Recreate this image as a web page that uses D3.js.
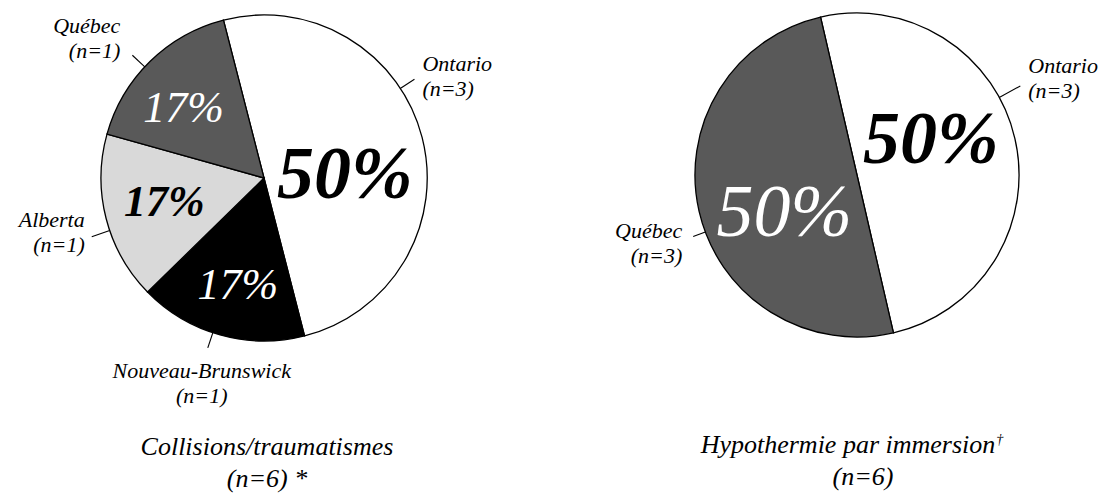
<!DOCTYPE html>
<html><head><meta charset="utf-8"><script src="https://cdn.jsdelivr.net/npm/d3@7"></script></head>
<body style="margin:0">
<script>
// data: collisions / traumatismes
const collisionProvinces = ["Ontario", "Nouveau-Brunswick", "Alberta", "Québec"]
const collisionCounts = [3, 1, 1, 1]
const collisionPercents = ["50%", "17%", "17%", "17%"]
const collisionTitle = ["Collisions/traumatismes", "(n=6) *"]

// data: hypothermie par immersion
const hypoProvinces = ["Ontario", "Québec"]
const hypoCounts = [3, 3]
const hypoPercents = ["50%", "50%"]
const hypoTitle = ["Hypothermie par immersion", "(n=6)"]

const fills = {
    "Ontario": "#ffffff",
    "Nouveau-Brunswick": "#000000",
    "Alberta": "#d9d9d9",
    "Québec": "#595959"
}
const deg = Math.PI / 180
const FONT = "Liberation Serif"

const svg = d3.select("body").append("svg")
    .attr("width", 1107)
    .attr("height", 493)

function darkFill(name) {
    return fills[name] === "#595959" || fills[name] === "#000000"
}

function addText(parent, x, y, size, txt) {
    return parent.append("text")
        .attr("x", x).attr("y", y)
        .attr("font-family", FONT)
        .attr("font-size", size)
        .attr("font-style", "italic")
        .text(txt)
}

// one pie with its labels
function drawPie(opts) {
    const rows = opts.names.map((n, i) => ({name: n, count: opts.counts[i], pct: opts.percents[i]}))
    const pie = d3.pie()
        .sort(null)
        .value(d => d.count)
        .startAngle(opts.start * deg)
        .endAngle(opts.start * deg + 2 * Math.PI)
    const arcs = pie(rows)
    const arc = d3.arc().innerRadius(0).outerRadius(opts.r)
    const inner = d3.arc().innerRadius(opts.r * 0.6).outerRadius(opts.r * 0.6)

    const g = svg.append("g").attr("transform", `translate(${opts.cx},${opts.cy})`)
    g.selectAll("path.slice")
        .data(arcs)
        .enter()
        .append("path")
        .attr("class", "slice")
        .attr("d", arc)
        .attr("fill", d => fills[d.data.name])
        .attr("stroke", "#000")
        .attr("stroke-width", 1.3)

    // percent labels inside slices
    arcs.forEach((d, i) => {
        const c = inner.centroid(d)
        addText(g, c[0] + opts.pctNudge[i][0], c[1] + opts.pctNudge[i][1] + opts.pctSize[i] * 0.34, opts.pctSize[i], d.data.pct)
            .attr("text-anchor", "middle")
            .attr("font-weight", darkFill(d.data.name) ? "normal" : "bold")
            .attr("fill", darkFill(d.data.name) ? "#fff" : "#000")
    })

    // leader lines and outside labels
    arcs.forEach((d, i) => {
        const a = opts.leaders[i][0] * deg
        const r2 = opts.leaders[i][1]
        const x1 = opts.r * Math.sin(a), y1 = -opts.r * Math.cos(a)
        const x2 = r2 * Math.sin(a), y2 = -r2 * Math.cos(a)
        g.append("line")
            .attr("x1", x1).attr("y1", y1)
            .attr("x2", x2).attr("y2", y2)
            .attr("stroke", "#000")
            .attr("stroke-width", 1.1)
        const lab = opts.labels[i]
        addText(g, x2 + lab[1], y2 + lab[2], 22, d.data.name).attr("text-anchor", lab[0])
        addText(g, x2 + lab[1], y2 + lab[2] + 25, 22, `(n=${d.data.count})`).attr("text-anchor", lab[0])
    })

    // title under the pie
    const title = addText(svg, opts.titleX, opts.titleY, 26, opts.title[0])
        .attr("text-anchor", "middle")
    if (opts.dagger) {
        const w = title.node().getComputedTextLength()
        addText(svg, opts.titleX + w / 2 + 1, opts.titleY - 9, 14, "†")
    }
    addText(svg, opts.titleX + opts.subShift, opts.titleY + 32, 26, opts.title[1])
        .attr("text-anchor", "middle")
}

drawPie({
    names: collisionProvinces, counts: collisionCounts, percents: collisionPercents, title: collisionTitle,
    cx: 264, cy: 178, r: 163, start: -14.4,
    pctSize: [74, 44, 44, 44],
    pctNudge: [[-14, 19], [0, 12], [-5, -1], [-12, -1]],
    leaders: [[56.7, 180], [198.3, 179], [251.2, 182], [313, 180]],
    labels: [["start", 8, -8], ["middle", -6, 30], ["end", -7, -10], ["end", -12, -22]],
    titleX: 267, titleY: 455, subShift: 0, dagger: false
})

drawPie({
    names: hypoProvinces, counts: hypoCounts, percents: hypoPercents, title: hypoTitle,
    cx: 857, cy: 175, r: 162, start: -13,
    pctSize: [74, 74],
    pctNudge: [[-21, -15], [22, 14]],
    leaders: [[61.4, 186], [249.4, 175]],
    labels: [["start", 8, -13], ["end", -11, 1]],
    titleX: 848, titleY: 453, subShift: 15, dagger: true
})
</script>
</body>
</html>
